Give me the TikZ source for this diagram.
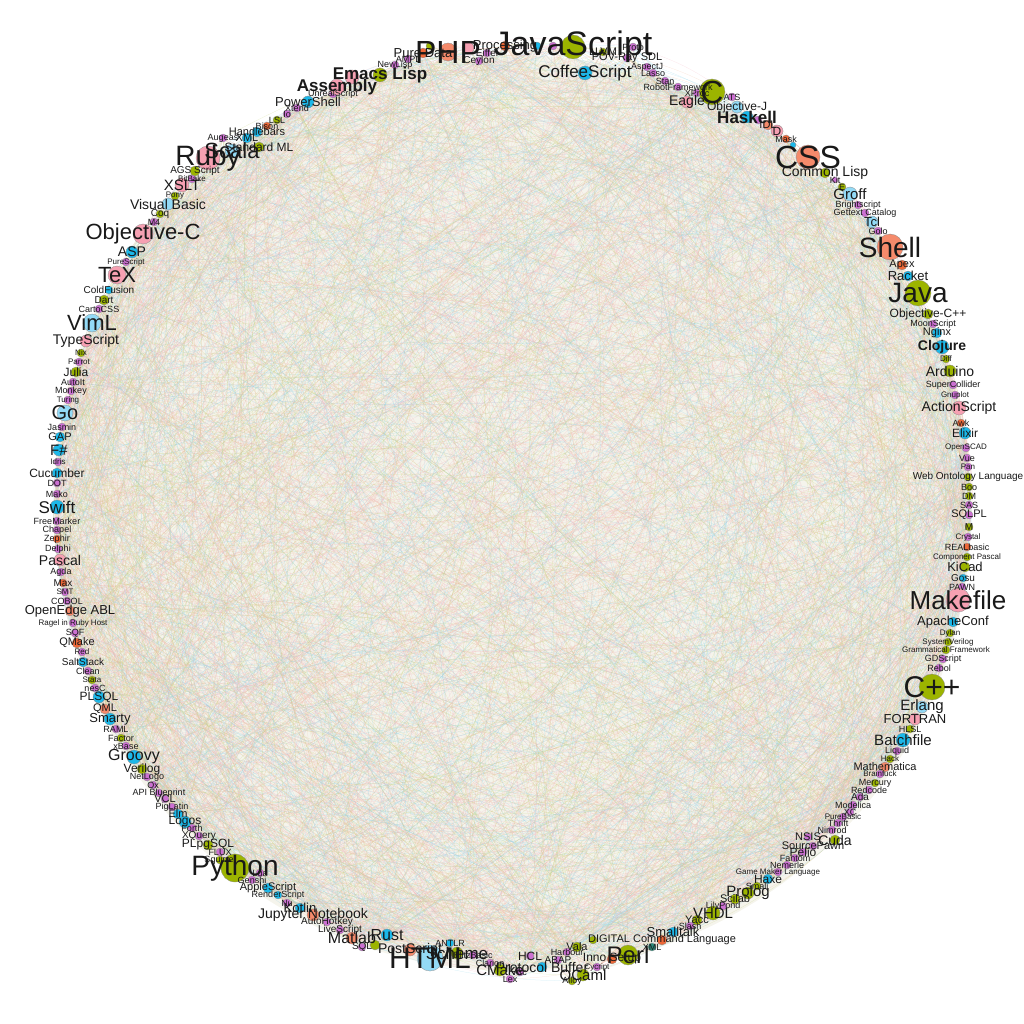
\documentclass[tikz,border=0pt]{standalone}
\usepackage{fontspec}
\setmainfont{Liberation Sans}
\definecolor{grn}{HTML}{9CB400}
\definecolor{cyn}{HTML}{1CB8E9}
\definecolor{pnk}{HTML}{F6A0B2}
\definecolor{sal}{HTML}{F58A6B}
\definecolor{lbl}{HTML}{93DAF6}
\definecolor{pur}{HTML}{CC70D2}
\definecolor{org}{HTML}{EE6838}
\definecolor{tea}{HTML}{2A8A7A}
\definecolor{bgin}{HTML}{F5F4EC}
\definecolor{ec1}{HTML}{8FD4EA}
\definecolor{ec2}{HTML}{F3B6C4}
\definecolor{ec3}{HTML}{C9D47E}
\definecolor{ec4}{HTML}{F2BCA0}
\pgfdeclarelayer{bg}
\pgfsetlayers{bg,main}
\def\langlist{448/52/9/sal/32/PHP,
423/53/5/org/13/Pure Data,
430/46/4/grn/9/\relax,
408/59/4/pur/9/AMPL,
395/65/4/pur/9/NewLisp,
468/48/6/pnk/9/\relax,
487/53/4/pur/10/Eiffel,
479/61/4/pur/10/Ceylon,
505/46/5/org/13/Processing,
537/46/4/cyn/9/\relax,
553/46/4/pur/9/\relax,
573/47/12/grn/34/JavaScript,
603/52/4/grn/11/LLVM,
633/47/4/pur/9/Proto,
627/58/4/pur/11/POV-Ray SDL,
647/67/4/pur/9/AspectJ,
653/73/4/pur/9/Lasso,
665/81/4/pur/9/Stan,
678/87/4/pur/9/RobotFramework,
585/73/7/cyn/17/CoffeeScript,
687/102/6/pnk/14/Eagle,
697/93/4/pur/9/XProc,
712/92/13/grn/32/C,
732/97/4/pur/9/ATS,
737/107/6/lbl/12/Objective-J,
747/117/6/cyn/17/\bfseries Haskell,
758/120/4/pur/9/\relax,
768/125/5/sal/11/IDL,
777/131/6/pnk/12/D,
786/139/4/org/9/Mask,
793/145/3/cyn/9/\relax,
808/157/12/sal/32/CSS,
825/173/5/grn/14/Common Lisp,
835/180/3/pur/9/Kit,
842/187/4/grn/9/E,
850/194/7/lbl/15/Groff,
858/205/4/pur/9/Brightscript,
865/213/4/pur/9/Gettext Catalog,
872/222/6/lbl/13/Tcl,
878/231/4/pur/9/Golo,
890/247/13/sal/28/Shell,
902/265/5/org/11/Apex,
908/276/5/cyn/13/Racket,
918/293/13/grn/28/Java,
928/314/5/grn/12/Objective-C++,
933/324/4/pur/9/MoonScript,
937/333/5/cyn/11/Nginx,
942/347/7/cyn/14/\bfseries Clojure,
946/359/4/grn/8/Diff,
950/371/6/grn/14/Arduino,
953/385/4/pur/9/SuperCollider,
955/395/4/pur/8/Gnuplot,
959/408/7/pnk/14/ActionScript,
961/423/4/org/9/Awk,
965/433/6/cyn/12/Elixir,
966/448/4/pur/8/OpenSCAD,
967/458/4/pur/9/Vue,
968/467/4/pur/8/Pan,
968/477/4/grn/10/Web Ontology Language,
969/487/4/grn/9/Boo,
969/496/4/grn/9/DM,
969/505/4/pur/9/SAS,
969/515/4/pur/11/SQLPL,
969/527/4/grn/10/M,
968/537/4/pur/8/Crystal,
967/547/4/org/9/REALbasic,
967/557/4/grn/8/Component Pascal,
965/567/5/grn/13/KiCad,
963/578/4/cyn/10/Gosu,
962/587/4/pur/9/PAWN,
958/600/12/pnk/26/Makefile,
953/622/5/cyn/13/ApacheConf,
950/633/4/grn/8/Dylan,
948/642/4/grn/8/SystemVerilog,
946/650/4/grn/8/Grammatical Framework,
943/659/4/pur/9/GDScript,
939/668/4/pur/9/Rebol,
932/687/13/grn/30/C++,
922/707/6/lbl/15/Erlang,
915/719/6/pnk/13/FORTRAN,
910/729/4/grn/9/HLSL,
903/740/7/cyn/15/Batchfile,
897/751/4/pur/9/Liquid,
890/759/4/grn/8/Hack,
885/767/5/sal/11/Mathematica,
880/774/4/pur/8/Brainfuck,
875/783/4/grn/9/Mercury,
869/790/4/pur/9/Redcode,
860/797/4/pur/10/Ada,
853/805/4/pur/9/Modelica,
850/812/4/pur/9/XC,
843/817/4/pur/8/PureBasic,
838/823/4/pur/9/Thrift,
832/830/4/pur/9/Nimrod,
808/837/4/pur/11/NSIS,
835/840/5/grn/14/Cuda,
813/846/4/pur/11/SourcePawn,
803/852/4/pur/12/Pelio,
795/858/4/pur/9/Fantom,
787/865/4/pur/9/Nemerle,
778/872/4/pur/8/Game Maker Language,
768/879/5/cyn/12/Haxe,
757/886/4/grn/9/Smali,
748/893/6/grn/15/Prolog,
735/899/5/grn/11/Scilab,
723/906/4/pur/9/LilyPond,
713/913/7/grn/15/VHDL,
697/920/5/grn/11/Yacc,
690/926/4/pur/9/Slash,
673/932/5/cyn/13/Smalltalk,
662/940/5/org/11/DIGITAL Command Language,
652/947/4/tea/9/XML,
628/955/10/grn/24/Perl,
593/940/4/grn/10/\relax,
577/947/5/grn/11/Vala,
567/952/4/pur/9/Harbour,
612/959/5/org/12/Inno Setup,
597/967/4/pur/8/Cycript,
583/975/6/grn/15/OCaml,
572/981/4/grn/9/Alloy,
542/967/5/cyn/14/Protocol Buffer,
558/960/4/pur/10/ABAP,
530/956/4/pur/12/HCL,
520/972/4/pur/9/Arc,
510/979/4/pur/9/Lex,
500/970/6/grn/15/CMake,
490/963/4/pur/9/Clarion,
473/955/4/pur/9/BlitzBasic,
457/953/6/grn/17/Scheme,
450/943/4/cyn/9/ANTLR,
430/958/13/lbl/30/HTML,
410/950/6/sal/14/PostScript,
387/935/6/cyn/16/Rust,
375/945/5/grn/9/\relax,
362/947/4/pur/10/SQL,
352/938/6/sal/16/Matlab,
340/930/4/pur/10/LiveScript,
327/922/4/pur/10/AutoHotkey,
313/915/6/sal/14/Jupyter Notebook,
300/908/5/cyn/13/Kotlin,
287/903/4/pur/9/Nu,
278/895/4/cyn/9/RenderScript,
268/888/5/cyn/11/AppleScript,
252/880/4/pur/9/Genshi,
260/873/4/pur/9/Lua,
235/868/14/grn/28/Python,
220/860/4/grn/9/Squirrel,
220/852/4/pur/9/FLUX,
208/845/5/grn/12/PLpgSQL,
199/836/4/pur/10/XQuery,
192/828/4/pur/9/Forth,
185/822/6/cyn/12/Logos,
178/814/5/cyn/11/Elm,
172/807/4/pur/9/PigLatin,
165/799/4/pur/11/VCL,
159/793/4/pur/9/API Blueprint,
153/785/4/pur/9/Ox,
147/777/4/pur/9/NetLogo,
142/769/5/grn/12/Verilog,
134/757/7/cyn/16/Groovy,
126/746/4/pur/9/xBase,
121/738/4/grn/9/Factor,
116/729/4/pur/9/RAML,
110/719/6/cyn/13/Smarty,
105/709/5/sal/11/QML,
99/697/6/cyn/12/PLSQL,
95/688/4/pur/9/nesC,
92/680/4/grn/8/Stata,
88/671/4/pur/9/Clean,
83/662/5/cyn/10/SaltStack,
82/652/4/pur/8/Red,
77/643/5/org/11/QMake,
75/633/4/pur/9/SQF,
73/623/4/pur/8/Ragel in Ruby Host,
70/611/5/sal/13/OpenEdge ABL,
67/601/4/pur/9/COBOL,
65/592/4/pur/8/SMT,
63/583/4/org/10/Max,
61/572/4/pur/9/Agda,
60/560/6/pnk/14/Pascal,
58/549/4/pur/9/Delphi,
57/539/4/org/9/Zephir,
57/530/4/pur/9/Chapel,
57/521/4/pur/9/FreeMarker,
57/507/7/cyn/17/Swift,
57/494/4/pur/9/Mako,
57/483/4/pur/9/DOT,
57/473/5/cyn/12/Cucumber,
58/462/4/pur/8/Idris,
59/450/6/cyn/15/F\#,
60/437/5/cyn/11/GAP,
62/427/4/pur/9/Jasmin,
65/413/8/lbl/20/Go,
68/400/4/pur/8/Turing,
71/391/4/pur/9/Monkey,
73/382/4/pur/9/AutoIt,
76/372/5/grn/12/Julia,
79/362/4/pur/8/Parrot,
81/353/4/grn/8/Nix,
86/341/6/pnk/14/TypeScript,
92/323/9/lbl/22/VimL,
99/309/4/pur/9/CartoCSS,
104/300/5/grn/10/Dart,
109/290/4/cyn/10/ColdFusion,
117/275/9/pnk/22/TeX,
126/262/4/pur/8/PureScript,
132/252/6/cyn/14/ASP,
143/234/10/pnk/22/Objective-C,
154/222/4/pur/9/M4,
160/214/4/grn/10/Coq,
168/204/6/lbl/14/Visual Basic,
175/196/4/grn/8/Pony,
182/185/7/pnk/15/XSLT,
192/179/4/pur/8/BitBake,
195/171/5/grn/10/AGS Script,
208/158/12/pnk/28/Ruby,
232/151/7/lbl/22/Scala,
223/138/4/pur/9/Augeas,
247/138/5/cyn/11/XML,
259/147/5/grn/12/Standard ML,
257/132/5/cyn/11/Handlebars,
267/126/4/org/9/Bison,
277/120/4/grn/9/LSL,
287/114/4/pur/9/Io,
297/108/4/pur/9/Xtend,
308/102/6/cyn/13/PowerShell,
333/94/4/pur/9/UnrealScript,
337/87/8/pnk/17/\bfseries Assembly,
352/77/7/pnk/9/\relax,
380/75/7/grn/17/\bfseries Emacs Lisp}
\begin{document}
\begin{tikzpicture}[x=1pt,y=-1pt,
  lang/.style={circle,inner sep=0pt,draw=black!45,line width=0.3pt},
  lbltext/.style={inner sep=0pt,text=black!90},
  edge1/.style={draw=ec1,opacity=.4,line width=.25pt},
  edge2/.style={draw=ec2,opacity=.4,line width=.25pt},
  edge3/.style={draw=ec3,opacity=.4,line width=.25pt},
  edge4/.style={draw=ec4,opacity=.4,line width=.25pt}]
\useasboundingbox (0,0) rectangle (1024,1024);
\foreach \x/\y/\r/\c/\f/\t [count=\i] in \langlist {
  \node[lang,fill=\c,minimum size={2*\r pt}] (n\i) at (\x,\y) {};
  \xdef\nodecount{\i}
}
\begin{pgfonlayer}{bg}
\fill[bgin] (513,513) circle (458pt);
\pgfmathsetseed{4242}
\foreach \k in {1,...,3200} {
  \pgfmathtruncatemacro\ea{random(1,\nodecount)}
  \pgfmathtruncatemacro\eb{random(1,\nodecount)}
  \pgfmathtruncatemacro\ec{random(1,4)}
  \ifnum\ea=\eb\else
    \draw[edge\ec] (n\ea) to[bend left=10] (n\eb);
  \fi
}
\end{pgfonlayer}
\foreach \x/\y/\r/\c/\f/\t [count=\i] in \langlist {
  \node[lbltext,font=\fontsize{\f}{\f}\selectfont] (l\i) at (n\i) {\t};
}
\end{tikzpicture}
\end{document}
